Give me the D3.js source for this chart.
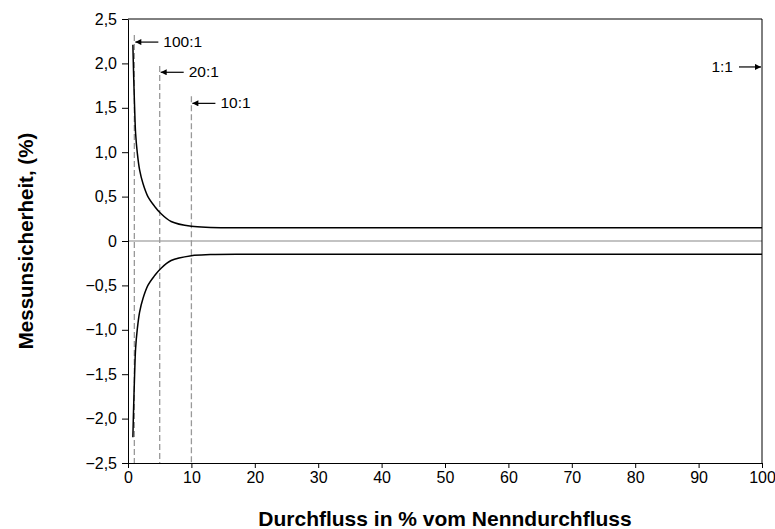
<!DOCTYPE html>
<html>
<head>
<meta charset="utf-8">
<script src="https://cdn.jsdelivr.net/npm/d3@7"></script>
<style>
  body { margin: 0; background: #fff; }
  svg { font-family: "Liberation Sans", Arial, sans-serif; }
  .axis path, .axis line { stroke: #000; }
</style>
</head>
<body>
<svg width="775" height="529"></svg>
<script>
// data
var flowPct = [0.77, 0.88, 1.04, 1.2, 1.47, 1.83, 2.35, 3.14, 4.2, 5.1, 6.8, 10, 13, 20, 100];
var upperVals = [2.21, 1.89, 1.51, 1.21, 0.99, 0.8, 0.65, 0.5, 0.39, 0.315, 0.22, 0.165, 0.153, 0.15, 0.15];
var lowerVals = [-2.21, -1.89, -1.51, -1.21, -0.99, -0.8, -0.65, -0.5, -0.39, -0.315, -0.22, -0.165, -0.153, -0.15, -0.15];

var ratioLabels = ['100:1', '20:1', '10:1'];
var ratioFlow = [1, 5, 10];
var ratioTop = [2.32, 1.97, 1.63];
var ratioArrowY = [2.24, 1.9, 1.55];

var xTicks = [0, 10, 20, 30, 40, 50, 60, 70, 80, 90, 100];
var yTicks = [2.5, 2.0, 1.5, 1.0, 0.5, 0, -0.5, -1.0, -1.5, -2.0, -2.5];
var yTickLabels = ['2,5', '2,0', '1,5', '1,0', '0,5', '0', '\u22120,5', '\u22121,0', '\u22121,5', '\u22122,0', '\u22122,5'];

var svg = d3.select('svg');
var margin = {left: 128, right: 13, top: 19, bottom: 66};
var width = 775 - margin.left - margin.right;
var height = 529 - margin.top - margin.bottom;

var g = svg.append('g').attr('transform', 'translate(' + margin.left + ',' + margin.top + ')');

var xScale = d3.scaleLinear().domain([0, 100]).range([0, width]);
var yScale = d3.scaleLinear().domain([-2.5, 2.5]).range([height, 0]);

// arrow head
svg.append('defs').append('marker')
  .attr('id', 'arr')
  .attr('viewBox', '0 0 10 10')
  .attr('refX', 10).attr('refY', 5)
  .attr('markerWidth', 10).attr('markerHeight', 6)
  .attr('markerUnits', 'userSpaceOnUse')
  .attr('orient', 'auto')
  .append('path').attr('d', 'M0,0 L10,5 L0,10 z').attr('fill', '#000');

// zero line
g.append('line')
  .attr('x1', 0).attr('x2', width)
  .attr('y1', yScale(0)).attr('y2', yScale(0))
  .attr('stroke', '#888').attr('stroke-width', 1.2);

// dashed ratio lines
g.selectAll('.ratio')
  .data(ratioFlow)
  .enter().append('line')
  .attr('class', 'ratio')
  .attr('x1', d => xScale(d)).attr('x2', d => xScale(d))
  .attr('y1', (d, i) => yScale(ratioTop[i])).attr('y2', height)
  .attr('stroke', '#999').attr('stroke-width', 1.3)
  .attr('stroke-dasharray', '6,3');

// curves
var line = d3.line()
  .x((d, i) => xScale(flowPct[i]))
  .y(d => yScale(d))
  .curve(d3.curveCatmullRom.alpha(0.5));

g.append('path').datum(upperVals).attr('d', line)
  .attr('fill', 'none').attr('stroke', '#000').attr('stroke-width', 1.5);
g.append('path').datum(lowerVals).attr('d', line)
  .attr('fill', 'none').attr('stroke', '#000').attr('stroke-width', 1.5);

// axes
var xAxisG = g.append('g').attr('class', 'axis')
  .attr('transform', 'translate(0,' + height + ')')
  .call(d3.axisBottom(xScale).tickValues(xTicks).tickSize(5).tickPadding(4).tickSizeOuter(0));

var yAxisG = g.append('g').attr('class', 'axis')
  .call(d3.axisLeft(yScale).tickValues(yTicks).tickSize(6).tickPadding(5).tickSizeOuter(0)
    .tickFormat((d, i) => yTickLabels[i]));

[xAxisG, yAxisG].forEach(function(a) {
  a.attr('font-family', null).attr('font-size', null);
  a.selectAll('text').style('font-size', '16px').style('fill', '#000');
});

// top and right frame
g.append('line').attr('x1', 0).attr('x2', width).attr('y1', 0).attr('y2', 0).attr('stroke', '#000');
g.append('line').attr('x1', width).attr('x2', width).attr('y1', 0).attr('y2', height).attr('stroke', '#000');

// ratio arrows + labels
ratioFlow.forEach(function(f, i) {
  var x0 = xScale(f);
  var y0 = yScale(ratioArrowY[i]);
  g.append('line')
    .attr('x1', x0 + 24).attr('x2', x0 + 1)
    .attr('y1', y0).attr('y2', y0)
    .attr('stroke', '#000').attr('stroke-width', 1.2)
    .attr('marker-end', 'url(#arr)');
  g.append('text')
    .attr('x', x0 + 29).attr('y', y0 + 5)
    .attr('font-size', 15.5)
    .text(ratioLabels[i]);
});

// 1:1 arrow
var y11 = yScale(1.96);
g.append('line')
  .attr('x1', width - 23).attr('x2', width - 1)
  .attr('y1', y11).attr('y2', y11)
  .attr('stroke', '#000').attr('stroke-width', 1.2)
  .attr('marker-end', 'url(#arr)');
g.append('text')
  .attr('x', width - 29).attr('y', y11 + 5)
  .attr('text-anchor', 'end')
  .attr('font-size', 15.5)
  .text('1:1');

// axis titles
svg.append('text')
  .attr('x', margin.left + width / 2).attr('y', 526)
  .attr('text-anchor', 'middle')
  .attr('font-size', 21).attr('font-weight', 'bold')
  .text('Durchfluss in % vom Nenndurchfluss');

svg.append('text')
  .attr('transform', 'translate(33,' + (margin.top + height / 2) + ') rotate(-90)')
  .attr('text-anchor', 'middle')
  .attr('font-size', 20.5).attr('font-weight', 'bold')
  .text('Messunsicherheit, (%)');
</script>
</body>
</html>
